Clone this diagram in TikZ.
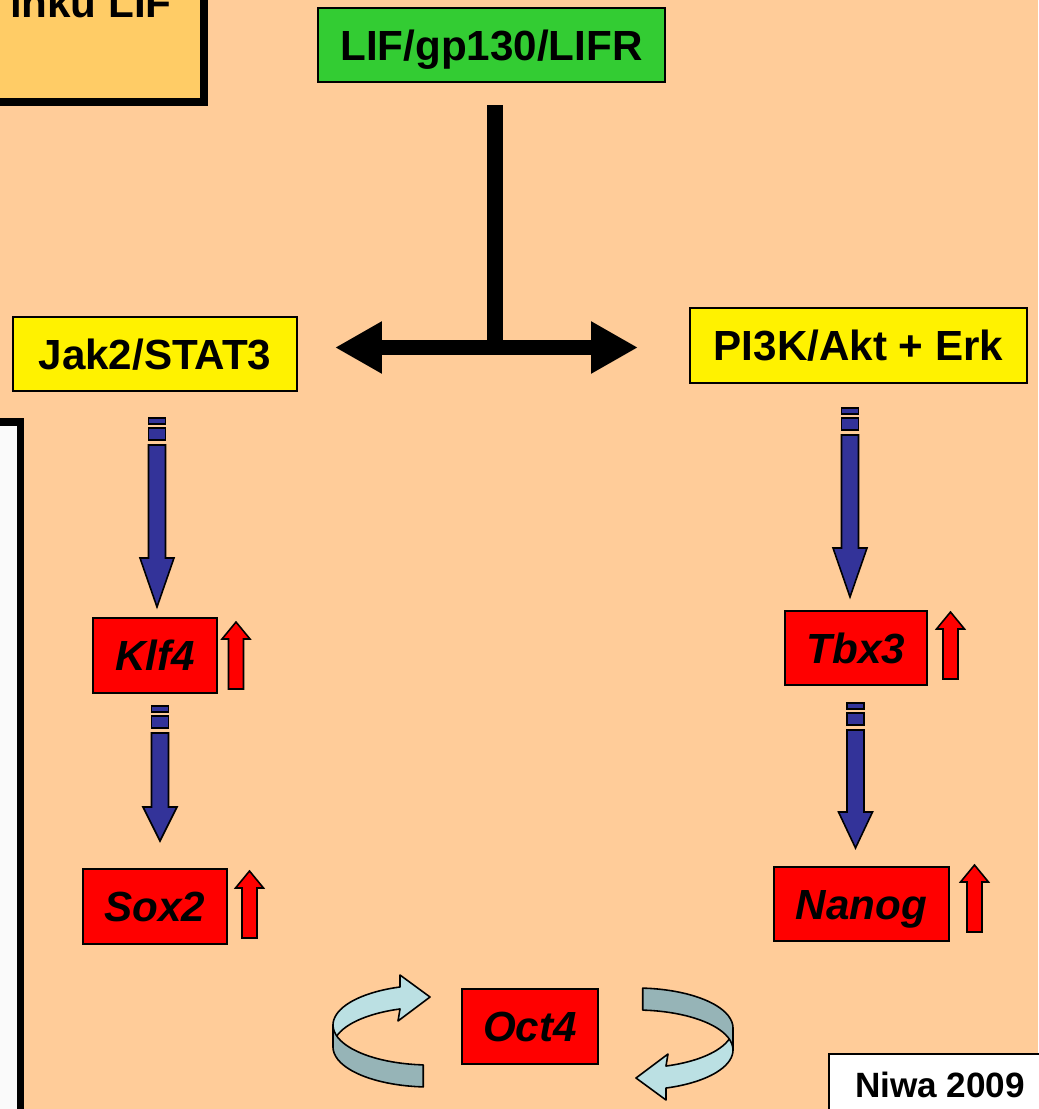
\documentclass[tikz,border=0pt]{standalone}
\usepackage{fontspec}
\setmainfont{Liberation Sans}
\usetikzlibrary{arrows.meta,calc}

\definecolor{peach}{HTML}{FFCC99}
\definecolor{titlebg}{HTML}{FFCC66}
\definecolor{rcpgreen}{HTML}{33CC33}
\definecolor{pathblue}{HTML}{333399}
\definecolor{loopl}{HTML}{BBE0E3}
\definecolor{loopd}{HTML}{96B4B7}

\tikzset{
  box/.style={draw=black, line width=1.3pt, inner sep=0pt, text height=17.2pt, text depth=0pt,
    font=\fontsize{24}{28}\selectfont\bfseries},
  receptor/.style={box, fill=rcpgreen},
  kinase/.style={box, fill=yellow},
  gene/.style={box, fill=red, font=\fontsize{24}{28}\selectfont\bfseries\itshape},
  refbox/.style={box, fill=white, text height=14.3pt, font=\fontsize{20}{24}\selectfont\bfseries},
  sigblue/.style={fill=pathblue, draw=black, line width=0.9pt},
  upred/.style={fill=red, draw=black, line width=0.9pt},
  loop/.style={draw=black, line width=0.9pt, line join=round},
}

% dashed block arrow: start, tip, head length
\newcommand\sigdown[3]{%
  \filldraw[sigblue] ($(#1)+(-8.5,0)$) rectangle ($(#1)+(8.5,6)$);
  \filldraw[sigblue] ($(#1)+(-8.5,10)$) rectangle ($(#1)+(8.5,22)$);
  \filldraw[sigblue] ($(#1)+(-8.5,27)$) -- ($(#2)+(-8.5,-#3)$) -- ($(#2)+(-17,-#3)$) -- (#2)
    -- ($(#2)+(17,-#3)$) -- ($(#2)+(8.5,-#3)$) -- ($(#1)+(8.5,27)$) -- cycle;
}
% small red up arrow, from its foot
\newcommand\upmark[1]{%
  \filldraw[upred] ($(#1)+(-7.5,0)$) -- ($(#1)+(-7.5,-50)$) -- ($(#1)+(-14,-50)$) -- ($(#1)+(0,-67)$)
    -- ($(#1)+(14,-50)$) -- ($(#1)+(7.5,-50)$) -- ($(#1)+(7.5,0)$) -- cycle;
}
% ribbon loop next to Oct4
\newcommand\turnloop{%
  \filldraw[loop, fill=loopl] plot[smooth, domain=180:252, samples=20] ({430+97*cos(\x)},{1025+40*sin(\x)})
    -- (400,975) -- (430,997) -- (398,1021)
    -- plot[smooth, domain=252:180, samples=20] ({430+97*cos(\x)},{1047+40*sin(\x)}) -- cycle;
  \filldraw[loop, fill=loopd] plot[smooth, domain=180:94, samples=20] ({430+97*cos(\x)},{1025+40*sin(\x)})
    -- plot[smooth, domain=94:180, samples=20] ({430+97*cos(\x)},{1047+40*sin(\x)}) -- cycle;
}

\begin{document}
\begin{tikzpicture}[x=0.02cm, y=-0.02cm]
  \useasboundingbox (0,0) rectangle (1038,1109);
  \fill[peach] (0,0) rectangle (1038,1109);

  % boxes cut by the frame
  \filldraw[fill=titlebg, draw=black, line width=0.16cm] (-50,-50) rectangle (204,102);
  \node[anchor=base east, inner sep=0pt, font=\fontsize{24}{28}\selectfont\bfseries] (title) at (172,17) {inku LIF};
  \filldraw[fill=white!98!black, draw=black, line width=0.16cm] (-50,421.5) rectangle (20.5,1200);

  % signalling nodes
  \node[receptor, minimum width=6.94cm, minimum height=1.48cm] (lif) at (491.5,45) {LIF/gp130/LIFR};
  \node[kinase, minimum width=5.68cm, minimum height=1.48cm] (jak) at (155,354) {Jak2/STAT3};
  \node[kinase, minimum width=6.74cm, minimum height=1.5cm] (pik) at (858.5,345.5) {PI3K/Akt + Erk};
  \node[gene, minimum width=2.48cm, minimum height=1.5cm] (klf) at (155,655.5) {Klf4};
  \node[gene, minimum width=2.88cm, minimum height=1.5cm] (sox) at (155,906.5) {Sox2};
  \node[gene, minimum width=2.84cm, minimum height=1.48cm] (tbx) at (856,648) {Tbx3};
  \node[gene, minimum width=3.5cm, minimum height=1.48cm] (nanog) at (861.5,904) {Nanog};
  \node[gene, minimum width=2.72cm, minimum height=1.5cm] (oct) at (530,1026.5) {Oct4};
  \node[refbox, minimum width=4.44cm, minimum height=1.24cm] (niwa) at (940,1085) {Niwa 2009};

  % split from the receptor
  \coordinate (stem) at (495,105);
  \coordinate (fork) at (495,347.5);
  \coordinate (toleft) at (335,347.5);
  \coordinate (toright) at (638,347.5);
  \draw[line width=0.31cm] (stem) -- ($(fork)+(0,7)$);
  \draw[line width=0.31cm, {Triangle[length=0.94cm,width=0.98cm]}-{Triangle[length=0.94cm,width=0.98cm]}] (toleft) -- (toright);

  % downstream arrows
  \coordinate (jakout) at (157,418);   \coordinate (klfin) at (157,607);
  \coordinate (klfout) at (160,706);   \coordinate (soxin) at (160,841);
  \coordinate (pikout) at (850,408);   \coordinate (tbxin) at (850,597);
  \coordinate (tbxout) at (855.5,703); \coordinate (nanogin) at (855.5,848);
  \sigdown{jakout}{klfin}{49}
  \sigdown{klfout}{soxin}{34}
  \sigdown{pikout}{tbxin}{49}
  \sigdown{tbxout}{nanogin}{36}

  % raised expression
  \coordinate (klfup) at (236,689);
  \coordinate (soxup) at (249.5,938);
  \coordinate (tbxup) at (950.5,679);
  \coordinate (nanogup) at (974.5,932);
  \upmark{klfup}
  \upmark{soxup}
  \upmark{tbxup}
  \upmark{nanogup}

  % self renewal loop
  \turnloop
  \begin{scope}[rotate around={180:(533,1037.5)}]
    \turnloop
  \end{scope}
\end{tikzpicture}
\end{document}
